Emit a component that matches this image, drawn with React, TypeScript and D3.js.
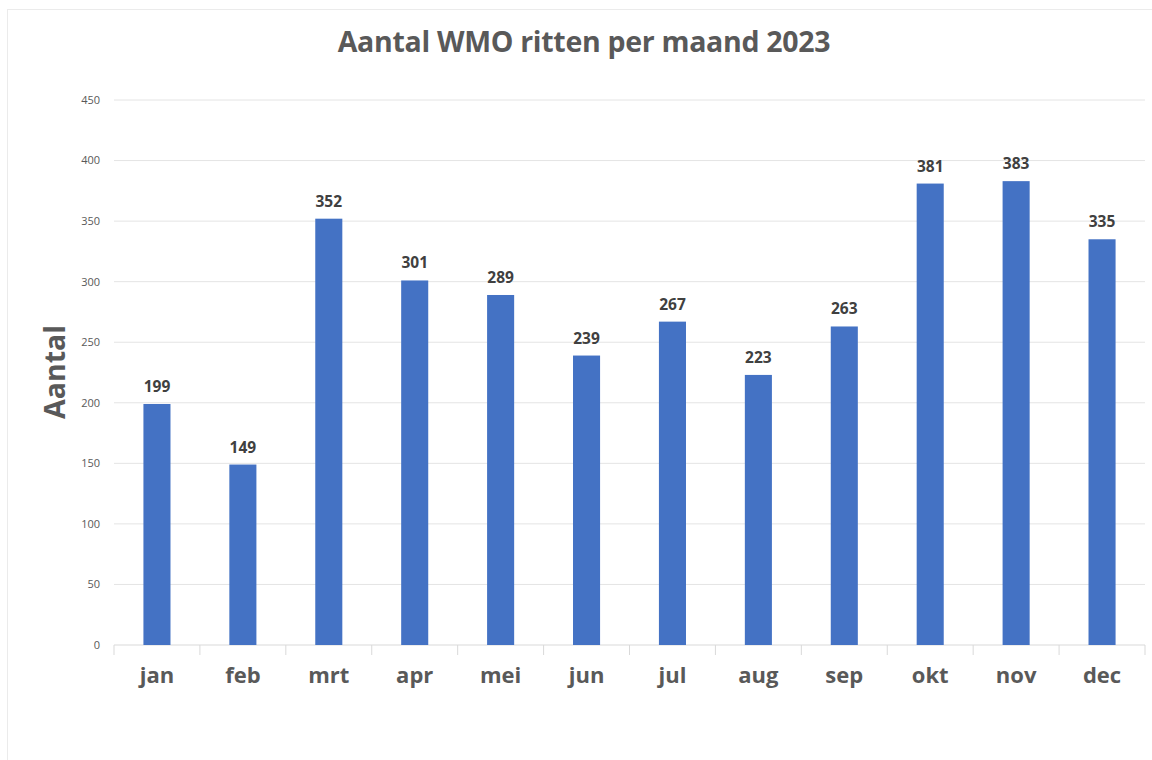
import React from 'react';
import * as d3 from 'd3';

const months = ['jan', 'feb', 'mrt', 'apr', 'mei', 'jun', 'jul', 'aug', 'sep', 'okt', 'nov', 'dec'];
const ritten = [199, 149, 352, 301, 289, 239, 267, 223, 263, 381, 383, 335];
const yTicks = [0, 50, 100, 150, 200, 250, 300, 350, 400, 450];

const App = () => {
  const width = 1152;
  const height = 760;
  const margin = { top: 100, right: 7, bottom: 115, left: 114 };
  const font = '"Open Sans", "Noto Sans", sans-serif';

  const x = d3.scaleBand()
    .domain(months)
    .range([margin.left, width - margin.right])
    .paddingInner(0.685)
    .paddingOuter(0.3425);

  const band = d3.scaleBand()
    .domain(months)
    .range([margin.left, width - margin.right]);

  const y = d3.scaleLinear()
    .domain([0, 450])
    .range([height - margin.bottom, margin.top]);

  return (
    <svg width={width} height={height} style={{ position: 'absolute', left: 0, top: 0, background: '#fff' }}>
      {/* chart frame */}
      <rect x={7.5} y={9.5} width={1160} height={800} fill="none" stroke="#ebebeb" />

      <text x={584} y={52} textAnchor="middle" fontFamily={font} fontWeight="bold" fontSize={28.5}
        letterSpacing={-0.3} fill="#595959">
        Aantal WMO ritten per maand 2023
      </text>

      {/* gridlines */}
      {yTicks.map(t => (
        <g key={t}>
          <line x1={margin.left} x2={width - margin.right} y1={y(t)} y2={y(t)}
            stroke={t === 0 ? '#d9d9d9' : '#e4e4e4'} strokeWidth={1} />
          <text x={100} y={y(t)} dy="0.35em" textAnchor="end" fontFamily={font} fontSize={11} fill="#595959">
            {t}
          </text>
        </g>
      ))}

      {/* category ticks */}
      {months.concat(['end']).map((m, i) => {
        const xp = i < months.length ? (band(m) as number) : width - margin.right;
        return <line key={m} x1={xp} x2={xp} y1={y(0)} y2={y(0) + 10} stroke="#d9d9d9" />;
      })}

      {/* bars */}
      {months.map((m, i) => (
        <g key={m}>
          <rect x={x(m)} y={y(ritten[i])} width={x.bandwidth()} height={y(0) - y(ritten[i])} fill="#4472C4" />
          <text x={(x(m) as number) + x.bandwidth() / 2} y={y(ritten[i]) - 12} textAnchor="middle"
            fontFamily={font} fontWeight="bold" fontSize={15.5} fill="#404040">
            {ritten[i]}
          </text>
          <text x={(x(m) as number) + x.bandwidth() / 2} y={683} textAnchor="middle"
            fontFamily={font} fontWeight="bold" fontSize={22} fill="#595959">
            {m}
          </text>
        </g>
      ))}

      <text transform="translate(65,372) rotate(-90)" textAnchor="middle"
        fontFamily={font} fontWeight="bold" fontSize={28.5} fill="#595959">
        Aantal
      </text>
    </svg>
  );
};

export default App;
